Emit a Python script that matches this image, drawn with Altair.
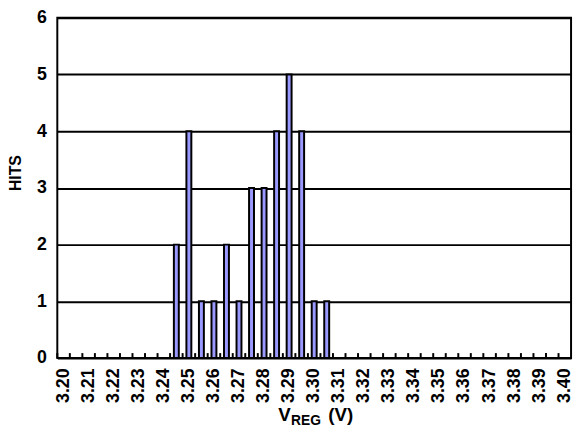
import altair as alt
import pandas as pd

# Category axis (bins of 0.005 V)
categories = [
    "3.200", "3.205", "3.210", "3.215", "3.220", "3.225", "3.230", "3.235",
    "3.240", "3.245", "3.250", "3.255", "3.260", "3.265", "3.270", "3.275",
    "3.280", "3.285", "3.290", "3.295", "3.300", "3.305", "3.310", "3.315",
    "3.320", "3.325", "3.330", "3.335", "3.340", "3.345", "3.350", "3.355",
    "3.360", "3.365", "3.370", "3.375", "3.380", "3.385", "3.390", "3.395",
    "3.400",
]
label_cats = [
    "3.200", "3.210", "3.220", "3.230", "3.240", "3.250", "3.260", "3.270",
    "3.280", "3.290", "3.300", "3.310", "3.320", "3.330", "3.340", "3.350",
    "3.360", "3.370", "3.380", "3.390", "3.400",
]
bar_cats = ["3.245", "3.250", "3.255", "3.260", "3.265", "3.270", "3.275",
            "3.280", "3.285", "3.290", "3.295", "3.300", "3.305"]
hits = [2, 4, 1, 1, 2, 1, 3, 3, 4, 5, 4, 1, 1]
y_ticks = [0, 1, 2, 3, 4, 5, 6]

FONT = "Liberation Sans"
W, H = 521, 345
TOP = 7

bars_df = pd.DataFrame({"cat": bar_cats, "hits": hits})
ticks_df = pd.DataFrame({"cat": categories})

xscale = alt.Scale(domain=categories, paddingInner=0, paddingOuter=0)

bars = alt.Chart(bars_df).mark_bar(
    size=5, fill="#9999FF", stroke="black", strokeWidth=2
).encode(
    x=alt.X("cat:O", scale=xscale, axis=alt.Axis(
        values=label_cats, labelExpr="slice(datum.value, 0, 4)",
        labelAngle=270, labelFont=FONT, labelFontSize=18, labelFontWeight="bold",
        labelColor="black", ticks=False, domain=False, grid=False, title=None,
        labelPadding=10)),
    y=alt.Y("hits:Q", scale=alt.Scale(domain=[0, 6]), axis=alt.Axis(
        values=y_ticks, grid=True, gridColor="black", gridWidth=2, gridOpacity=1,
        domain=False, ticks=False, labelFont=FONT, labelFontSize=18,
        labelFontWeight="bold", labelColor="black", labelPadding=11,
        title="HITS", titleFont=FONT, titleFontSize=16, titleFontWeight="bold",
        titleColor="black", titleAngle=270, titleAlign="center",
        titleBaseline="middle", titleX=-42, titleY=172 - 8 - TOP)),
)

ticks = alt.Chart(ticks_df).mark_rule(color="black", strokeWidth=2).encode(
    x=alt.X("cat:O", scale=xscale, bandPosition=0),
    y=alt.value(H),
    y2=alt.value(H - 5),
)

def txt(s, size, x, y, align="left"):
    return alt.Chart(alt.Data(values=[{"t": s}])).mark_text(
        font=FONT, fontSize=size, fontWeight="bold", color="black",
        align=align, baseline="alphabetic"
    ).encode(x=alt.value(x), y=alt.value(y), text="t:N")

BASE = 424 - 8 - TOP
title_v = txt("V", 19, 224, BASE)
title_reg = txt("REG", 14, 237, BASE + 4)
title_unit = txt("(V)", 19, 300, BASE, align="right")

chart = alt.layer(bars, ticks, title_v, title_reg, title_unit).properties(
    width=W, height=H,
    autosize=alt.AutoSizeParams(type="none"),
    padding={"left": 50, "top": TOP, "right": 4, "bottom": 70},
).configure_view(stroke="black", strokeWidth=2)

chart.save("out.html", embed_options={"renderer": "svg", "actions": False})
